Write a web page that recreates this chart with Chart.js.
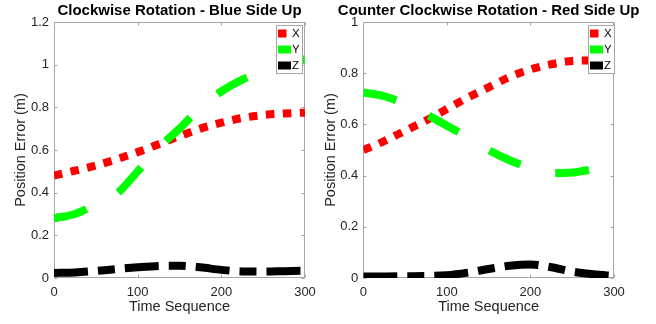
<!DOCTYPE html>
<html>
<head>
<meta charset="utf-8">
<title>Position Error</title>
<script src="https://cdn.jsdelivr.net/npm/chart.js@4.4.1/dist/chart.umd.min.js"></script>
<style>
  html, body { margin: 0; padding: 0; background: #fff; }
  #wrap { position: relative; width: 656px; height: 324px; overflow: hidden; }
  .panel { position: absolute; top: 0; }
</style>
</head>
<body>
<div id="wrap">
  <canvas id="cwChart" class="panel" width="328" height="324" style="left:0"></canvas>
  <canvas id="ccwChart" class="panel" width="338" height="324" style="left:318px"></canvas>
</div>
<script>
// time samples (shared by both plots)
var timeSeq = [0, 25, 50, 75, 100, 125, 150, 175, 200, 225, 250, 275, 300];

// clockwise rotation - blue side up
var cwX = [0.480, 0.503, 0.527, 0.557, 0.590, 0.627, 0.665, 0.700, 0.728, 0.750, 0.764, 0.771, 0.775];
var cwY = [0.280, 0.300, 0.345, 0.395, 0.500, 0.610, 0.700, 0.800, 0.875, 0.930, 0.970, 1.000, 1.025];
var cwZ = [0.024, 0.026, 0.033, 0.042, 0.050, 0.056, 0.057, 0.050, 0.038, 0.031, 0.030, 0.032, 0.034];

// counter clockwise rotation - red side up
var ccwX = [0.500, 0.535, 0.575, 0.615, 0.660, 0.705, 0.745, 0.785, 0.815, 0.835, 0.848, 0.850, 0.845];
var ccwY = [0.725, 0.710, 0.680, 0.640, 0.595, 0.550, 0.500, 0.460, 0.430, 0.410, 0.412, 0.425, 0.440];
var ccwZ = [0.006, 0.006, 0.007, 0.008, 0.011, 0.021, 0.035, 0.048, 0.053, 0.042, 0.025, 0.015, 0.008];

var seriesNames = ['X', 'Y', 'Z'];
var seriesColors = ['#ff0000', '#00ff00', '#000000'];
var seriesDash = [[8.5, 8.5], [34, 36], [34, 10, 17, 10]];

var FONT = '"Liberation Sans", Arial, Helvetica, sans-serif';
var AXIS_GRAY = '#a6a6a6';

function toPoints(vals) {
    return timeSeq.map(function(t, i) { return { x: t, y: vals[i] }; });
}

// matlab style box round the axes, ticks pointing in
var axesBox = {
    id: 'axesBox',
    beforeDatasetsDraw: function(chart) {
        var ctx = chart.ctx, a = chart.chartArea;
        var l = Math.round(a.left) + 0.5, r = Math.round(a.right) - 0.5;
        var t = Math.round(a.top) + 0.5, b = Math.round(a.bottom) - 0.5;
        ctx.save();
        ctx.strokeStyle = AXIS_GRAY;
        ctx.lineWidth = 1;
        ctx.strokeRect(l, t, r - l, b - t);
        ctx.beginPath();
        chart.scales.y.ticks.forEach(function(tk) {
            var y = Math.round(chart.scales.y.getPixelForValue(tk.value)) + 0.5;
            ctx.moveTo(l, y); ctx.lineTo(l + 3, y);
            ctx.moveTo(r, y); ctx.lineTo(r - 3, y);
        });
        chart.scales.x.ticks.forEach(function(tk) {
            var x = Math.round(chart.scales.x.getPixelForValue(tk.value)) + 0.5;
            ctx.moveTo(x, b); ctx.lineTo(x, b - 3);
            ctx.moveTo(x, t); ctx.lineTo(x, t + 3);
        });
        ctx.stroke();
        ctx.restore();
    }
};

// title centred over the axes, legend box in the top right corner
var boxLegend = {
    id: 'boxLegend',
    afterDraw: function(chart, args, opts) {
        var ctx = chart.ctx, a = chart.chartArea;
        ctx.save();
        ctx.fillStyle = '#000';
        ctx.font = 'bold 15px ' + FONT;
        ctx.textAlign = 'center';
        ctx.textBaseline = 'middle';
        ctx.fillText(opts.title, (a.left + a.right) / 2, 11);

        var w = 26, h = 48;
        var left = Math.round(a.right - opts.inset - w) + 0.5;
        var top = Math.round(a.top + 3) + 0.5;
        ctx.fillStyle = '#fff';
        ctx.fillRect(left, top, w, h);
        ctx.strokeStyle = AXIS_GRAY;
        ctx.lineWidth = 1;
        ctx.strokeRect(left, top, w, h);
        ctx.font = '11.5px ' + FONT;
        ctx.textAlign = 'left';
        chart.data.datasets.forEach(function(ds, i) {
            var cy = top + 8 + i * 16;
            var sw = Math.min(13, ds.borderDash[0]);
            ctx.fillStyle = ds.borderColor;
            ctx.fillRect(left + 1.5, cy - 4, sw, 8);
            ctx.fillStyle = '#000';
            ctx.fillText(ds.label, left + 15.5, cy + 0.5);
        });
        ctx.restore();
    }
};

function makeChart(canvasId, titleText, xVals, yVals, zVals, yMax, cfg) {
    var values = [xVals, yVals, zVals];
    var datasets = values.map(function(vals, i) {
        return {
            label: seriesNames[i],
            data: toPoints(vals),
            borderColor: seriesColors[i],
            backgroundColor: seriesColors[i],
            borderWidth: 8,
            borderDash: seriesDash[i],
            borderCapStyle: 'butt',
            pointRadius: 0,
            cubicInterpolationMode: 'monotone',
            fill: false,
            order: 3 - i
        };
    });

    return new Chart(document.getElementById(canvasId), {
        type: 'line',
        data: { datasets: datasets },
        options: {
            responsive: false,
            animation: false,
            devicePixelRatio: 1,
            layout: { padding: { left: 0, right: cfg.padRight, top: 22, bottom: 0 } },
            plugins: {
                legend: { display: false },
                tooltip: { enabled: false },
                title: { display: false },
                boxLegend: { inset: cfg.legendInset, title: titleText }
            },
            scales: {
                x: {
                    type: 'linear',
                    min: 0,
                    max: 300,
                    grid: { display: false, drawTicks: false },
                    border: { display: false },
                    ticks: {
                        stepSize: 100,
                        color: '#262626',
                        font: { family: FONT, size: 13 },
                        padding: 7,
                        maxRotation: 0
                    },
                    title: {
                        display: true,
                        text: 'Time Sequence',
                        color: '#262626',
                        font: { family: FONT, size: 14.5 },
                        padding: { top: 0, bottom: 8.3 }
                    },
                    afterFit: function(s) { s.height = 46; }
                },
                y: {
                    min: 0,
                    max: yMax,
                    grid: { display: false, drawTicks: false },
                    border: { display: false },
                    ticks: {
                        stepSize: 0.2,
                        color: '#262626',
                        font: { family: FONT, size: 13 },
                        padding: 5,
                        callback: function(v) { return String(Math.round(v * 10) / 10); }
                    },
                    title: {
                        display: true,
                        text: 'Position Error (m)',
                        color: '#262626',
                        font: { family: FONT, size: 14.5 },
                        padding: { top: cfg.yTitlePad, bottom: 0 }
                    },
                    afterFit: function(s) { s.width = cfg.axisLeft; }
                }
            }
        },
        plugins: [axesBox, boxLegend]
    });
}

makeChart('cwChart', 'Clockwise Rotation - Blue Side Up', cwX, cwY, cwZ, 1.2,
    { axisLeft: 54, padRight: 23, yTitlePad: 12.3, legendInset: 3 });
makeChart('ccwChart', 'Counter Clockwise Rotation - Red Side Up', ccwX, ccwY, ccwZ, 1,
    { axisLeft: 45.3, padRight: 42, yTitlePad: 4.3, legendInset: 0.5 });
</script>
</body>
</html>
